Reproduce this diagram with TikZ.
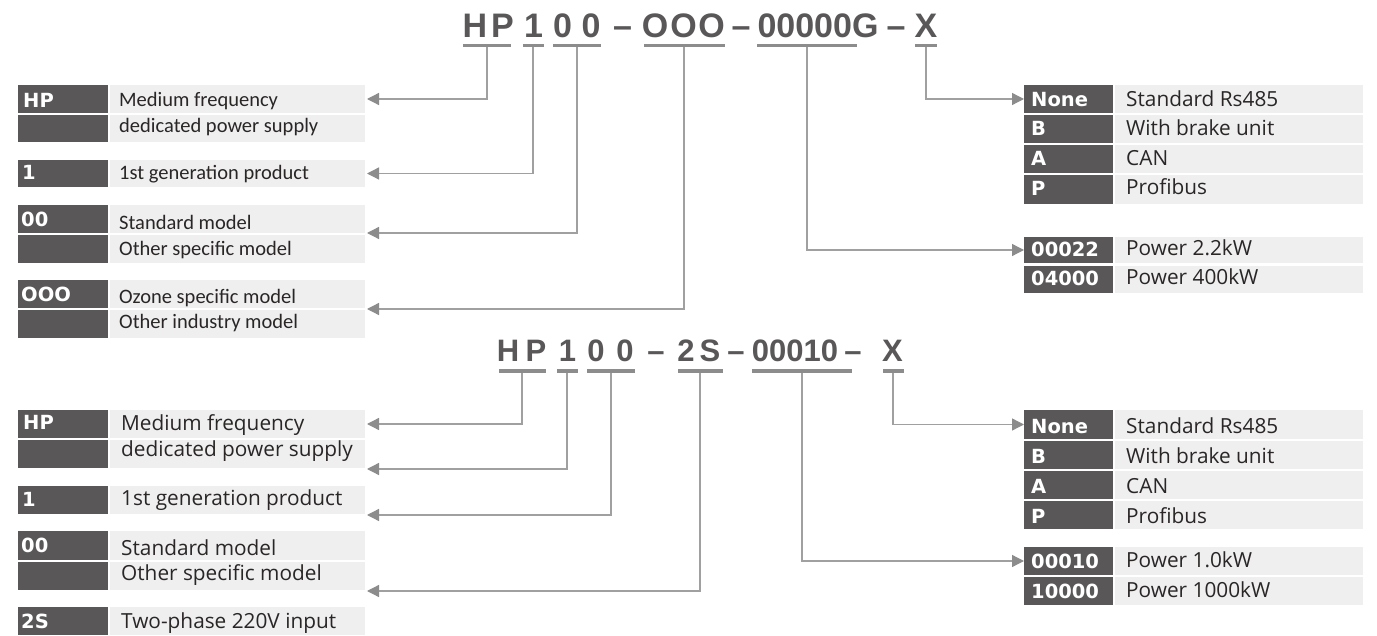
\documentclass[tikz,border=0pt]{standalone}
\usepackage{fontspec}
\usetikzlibrary{arrows.meta}
\setmainfont{Open Sans}
\newfontfamily\codefamily{Liberation Sans}
\newfontfamily\labfamily{DejaVu Sans}
\newfontfamily\calfamily{Carlito}
\newfontfamily\openfamily{Open Sans}
\newcommand\codefntA{\codefamily\bfseries\fontsize{34}{36}\selectfont}
\newcommand\codefntB{\codefamily\bfseries\fontsize{31}{33}\selectfont}
\newcommand\labfnt{\labfamily\bfseries\fontsize{19.5}{21}\selectfont}
\newcommand\calfnt{\calfamily\fontsize{20.5}{22}\selectfont}
\newcommand\openfnt{\openfamily\fontsize{20.8}{22}\selectfont}
\definecolor{dkgray}{HTML}{595757}
\definecolor{ltgray}{HTML}{EFEFEF}
\definecolor{codegray}{HTML}{595757}
\definecolor{ulgray}{HTML}{8C8C8C}
\definecolor{lngray}{HTML}{A0A0A0}
\definecolor{argray}{HTML}{8C8C8C}
\definecolor{txgray}{HTML}{2A2626}
\tikzset{
  dkbox/.style={fill=dkgray, draw=none, inner sep=0, outer sep=0},
  ltbox/.style={fill=ltgray, draw=none, inner sep=0, outer sep=0},
  dlab/.style={font=\labfnt, text=white, inner sep=0, anchor=base west},
  tcal/.style={font=\calfnt, text=txgray, inner sep=0, anchor=base west},
  topen/.style={font=\openfnt, text=txgray, inner sep=0, anchor=base west},
  codeA/.style={font=\codefntA, text=codegray, inner sep=0, anchor=base},
  codeB/.style={font=\codefntB, text=codegray, inner sep=0, anchor=base},
  uline/.style={fill=ulgray, draw=none, inner sep=0, outer sep=0, minimum height=3.5},
  conn/.style={draw=lngray, line width=1.3, -{Triangle[length=12pt,width=12pt,color=argray]}},
}
\newcommand\cells[6]{%
  \node[dkbox, anchor=north west, minimum width={#3-#2}, minimum height={#6-#5}] (#1d) at (#2,#5) {};
  \node[ltbox, anchor=north west, minimum width={#4-#3-2}, minimum height={#6-#5}] (#1l) at ({#3+2},#5) {};}
\begin{document}
\begin{tikzpicture}[x=1pt,y=-1pt]
\fill[white] (0,0) rectangle (1377,636);
\useasboundingbox (0,0) rectangle (1377,636);

% ---------- top code ----------
\node[codeA] (c1) at (475,38) {H};
\node[codeA] (c2) at (502.5,38) {P};
\node[codeA] (c3) at (533.5,38) {1};
\node[codeA] (c4) at (562.5,38) {0};
\node[codeA] (c5) at (591,38) {0};
\node[codeA] (c6) at (622.5,38) {–};
\node[codeA] (c7) at (655,38) {O};
\node[codeA] (c8) at (683.5,38) {O};
\node[codeA] (c9) at (711.5,38) {O};
\node[codeA] (c10) at (741,38) {–};
\node[codeA] (c11) at (818,38) {00000G};
\node[codeA] (c12) at (896,38) {–};
\node[codeA] (c13) at (926,38) {X};

\node[uline, minimum width=48] (uHP) at (487,45.5) {};
\node[uline, minimum width=21] (u1) at (533,45.5) {};
\node[uline, minimum width=48] (u00) at (577,45.5) {};
\node[uline, minimum width=81] (uOOO) at (684,45.5) {};
\node[uline, minimum width=100] (uG) at (807,45.5) {};
\node[uline, minimum width=22] (uX) at (926,45.5) {};

% ---------- top left table ----------
\cells{A1}{18}{107.5}{365}{85}{113}
\cells{A2}{18}{107.5}{365}{115}{142}
\cells{A3}{18}{107.5}{365}{160}{187}
\cells{A4}{18}{107.5}{365}{205}{233}
\cells{A5}{18}{107.5}{365}{235}{263}
\cells{A6}{18}{107.5}{365}{280}{308}
\cells{A7}{18}{107.5}{365}{310}{338}
\node[dlab] (A1k) at (23,108) {HP};
\node[tcal] (A1t) at (119,107) {Medium frequency};
\node[tcal] (A2t) at (119,133) {dedicated power supply};
\node[dlab] (A3k) at (22,180) {1};
\node[tcal] (A3t) at (119,180) {1st generation product};
\node[dlab] (A4k) at (21,227) {00};
\node[tcal] (A4t) at (119,230) {Standard model};
\node[tcal] (A5t) at (119,256) {Other specific model};
\node[dlab] (A6k) at (21,302) {OOO};
\node[tcal] (A6t) at (119,304) {Ozone specific model};
\node[tcal] (A7t) at (119,329) {Other industry model};

% ---------- top right table ----------
\cells{C1}{1024}{1113}{1363}{85}{113}
\cells{C2}{1024}{1113}{1363}{115}{143}
\cells{C3}{1024}{1113}{1363}{145}{173}
\cells{C4}{1024}{1113}{1363}{175}{204}
\cells{C5}{1024}{1113}{1363}{237}{263}
\cells{C6}{1024}{1113}{1363}{266}{293}
\node[dlab] (C1k) at (1031,107) {None};
\node[topen] (C1t) at (1126,107) {Standard Rs485};
\node[dlab] (C2k) at (1031,136) {B};
\node[topen] (C2t) at (1126,136) {With brake unit};
\node[dlab] (C3k) at (1031,166) {A};
\node[topen] (C3t) at (1126,166) {CAN};
\node[dlab] (C4k) at (1031,196) {P};
\node[topen] (C4t) at (1126,195) {Profibus};
\node[dlab] (C5k) at (1031,257) {00022};
\node[topen] (C5t) at (1126,256) {Power 2.2kW};
\node[dlab] (C6k) at (1031,286) {04000};
\node[topen] (C6t) at (1126,285) {Power 400kW};

% ---------- top connectors ----------
\coordinate (aHP) at (367,99);
\coordinate (a1) at (367,173.5);
\coordinate (a00) at (367,233);
\coordinate (aOOO) at (367,309);
\coordinate (aG) at (1024,250);
\coordinate (aX) at (1024,99);
\draw[conn] (uHP.south) |- (aHP);
\draw[conn] (u1.south) |- (a1);
\draw[conn] (u00.south) |- (a00);
\draw[conn] (uOOO.south) |- (aOOO);
\draw[conn] (uG.south) |- (aG);
\draw[conn] (uX.south) |- (aX);

% ---------- bottom code ----------
\node[codeB] (e1) at (508,362) {H};
\node[codeB] (e2) at (536,362) {P};
\node[codeB] (e3) at (567.5,362) {1};
\node[codeB] (e4) at (596,362) {0};
\node[codeB] (e5) at (625,362) {0};
\node[codeB] (e6) at (656,362) {–};
\node[codeB] (e7) at (686,362) {2};
\node[codeB] (e8) at (710,362) {S};
\node[codeB] (e9) at (736,362) {–};
\node[codeB] (e10) at (795,362) {00010};
\node[codeB] (e11) at (853,362) {–};
\node[codeB] (e12) at (892.5,362) {X};

\node[uline, minimum width=47] (vHP) at (522,371) {};
\node[uline, minimum width=21] (v1) at (567,371) {};
\node[uline, minimum width=48] (v00) at (611,371) {};
\node[uline, minimum width=45] (v2S) at (700,371) {};
\node[uline, minimum width=100] (v10) at (802,371) {};
\node[uline, minimum width=21] (vX) at (893,371) {};

% ---------- bottom left table ----------
\cells{B1}{18}{108}{365}{410}{438}
\cells{B2}{18}{108}{365}{440}{468}
\cells{B3}{18}{108}{365}{486}{514}
\cells{B4}{18}{108}{365}{531}{560}
\cells{B5}{18}{108}{365}{562}{590}
\cells{B6}{18}{108}{365}{607}{635}
\node[dlab] (B1k) at (23,429) {HP};
\node[topen] (B1t) at (121,430) {Medium frequency};
\node[topen] (B2t) at (121,456) {dedicated power supply};
\node[dlab] (B3k) at (22,506) {1};
\node[topen] (B3t) at (121,505) {1st generation product};
\node[dlab] (B4k) at (21,552) {00};
\node[topen] (B4t) at (121,555) {Standard model};
\node[topen] (B5t) at (121,580) {Other specific model};
\node[dlab] (B6k) at (21,628) {2S};
\node[topen] (B6t) at (121,628) {Two-phase 220V input};

% ---------- bottom right table ----------
\cells{D1}{1024}{1113}{1363}{410}{439}
\cells{D2}{1024}{1113}{1363}{441}{469}
\cells{D3}{1024}{1113}{1363}{471}{499}
\cells{D4}{1024}{1113}{1363}{501}{529}
\cells{D5}{1024}{1113}{1363}{547}{575}
\cells{D6}{1024}{1113}{1363}{577}{605}
\node[dlab] (D1k) at (1031,433) {None};
\node[topen] (D1t) at (1126,433) {Standard Rs485};
\node[dlab] (D2k) at (1031,463) {B};
\node[topen] (D2t) at (1126,463) {With brake unit};
\node[dlab] (D3k) at (1031,493) {A};
\node[topen] (D3t) at (1126,493) {CAN};
\node[dlab] (D4k) at (1031,523) {P};
\node[topen] (D4t) at (1126,523) {Profibus};
\node[dlab] (D5k) at (1031,568) {00010};
\node[topen] (D5t) at (1126,567) {Power 1.0kW};
\node[dlab] (D6k) at (1031,598) {10000};
\node[topen] (D6t) at (1126,597) {Power 1000kW};

% ---------- bottom connectors ----------
\coordinate (bHP) at (367,424);
\coordinate (b1) at (367,469);
\coordinate (b00) at (367,515);
\coordinate (b2S) at (367,591);
\coordinate (b10) at (1024,561);
\coordinate (bX) at (1024,424.5);
\draw[conn] (vHP.south) |- (bHP);
\draw[conn] (v1.south) |- (b1);
\draw[conn] (v00.south) |- (b00);
\draw[conn] (v2S.south) |- (b2S);
\draw[conn] (v10.south) |- (b10);
\draw[conn] (vX.south) |- (bX);
\end{tikzpicture}
\end{document}
